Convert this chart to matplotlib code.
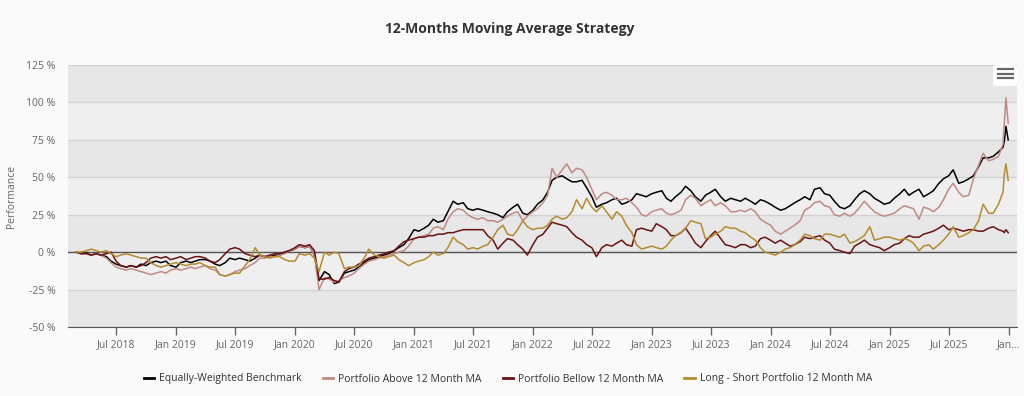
import matplotlib
matplotlib.use("Agg")
import pandas as pd
import matplotlib.pyplot as plt
from matplotlib.lines import Line2D
from matplotlib.patches import FancyBboxPatch

plt.rcParams["font.family"] = ["Open Sans", "DejaVu Sans"]

# semi-monthly observations, plus a few late-December points for the final spike
dates = pd.date_range("2018-03-01", "2025-12-15", freq="SMS").append(
    pd.DatetimeIndex(["2025-12-19", "2025-12-24", "2025-12-31"]))

benchmark = [
    0, -1, -0.5, -2, -1, -2, -3, -6, -8, -9,
    -10, -9, -10, -8, -9, -7, -6, -7, -6, -9,
    -10, -7, -6, -7, -6, -5, -5, -6, -8, -9,
    -7, -4, -5, -4, -5, -6, -4, -2, -3, -3,
    -2, -2, 0, 1, 2, 4, 3, 4, -2, -19,
    -13, -15, -21, -20, -14, -13, -12, -10, -7, -5,
    -4, -3, -2, -1, 1, 3, 5, 9, 15, 14,
    16, 18, 22, 20, 21, 27, 34, 32, 33, 29,
    28, 29, 28, 27, 26, 25, 23, 27, 30, 32,
    26, 25, 28, 32, 35, 40, 48, 50, 51, 49,
    47, 47, 48, 43, 37, 30, 32, 33, 35, 36,
    32, 33, 35, 39, 38, 37, 39, 40, 41, 36,
    34, 37, 40, 44, 41, 37, 34, 38, 40, 42,
    37, 34, 36, 35, 34, 36, 34, 32, 35, 34,
    32, 30, 28, 29, 31, 33, 35, 37, 35, 42,
    43, 39, 38, 34, 30, 29, 31, 35, 39, 41,
    39, 36, 34, 32, 33, 36, 39, 42, 38, 40,
    42, 37, 39, 41, 46, 49, 51, 55, 46, 47,
    49, 51, 57, 63, 63, 64, 67, 70,
    74, 84, 75,
]

above_ma = [
    0, -1, -1, -2, -1, -2, -4, -7, -10, -11,
    -12, -11, -12, -13, -14, -15, -14, -13, -14, -12,
    -11, -12, -11, -10, -11, -10, -9, -11, -12, -15,
    -16, -15, -13, -12, -11, -9, -7, -4, -4, -3,
    -3, -2, -1, 1, 2, 4, 3, 4, -2, -25,
    -17, -18, -20, -19, -17, -16, -14, -11, -8, -6,
    -5, -4, -3, -2, -1, 0, 1, 4, 9, 10,
    11, 12, 16, 17, 15, 22, 27, 29, 28, 25,
    23, 22, 23, 21, 21, 20, 22, 24, 26, 27,
    21, 24, 27, 29, 33, 38, 56, 50, 55, 59,
    53, 56, 55, 50, 42, 35, 39, 40, 38, 35,
    35, 36, 33, 30, 25, 24, 27, 28, 29, 26,
    25, 26, 28, 35, 38, 36, 31, 33, 35, 31,
    33, 31, 27, 27, 28, 27, 29, 27, 22, 20,
    18, 14, 12, 14, 16, 18, 21, 28, 30, 33,
    34, 31, 30, 25, 24, 26, 24, 26, 30, 34,
    30, 27, 25, 24, 25, 26, 29, 31, 30, 29,
    22, 30, 29, 27, 30, 35, 42, 46, 40, 37,
    38, 49, 58, 66, 61, 62, 64, 72,
    86, 103, 86,
]

below_ma = [
    0, -1, -1, -2, -1, -2, -1, 0, -6, -9,
    -10, -9, -10, -9, -7, -4, -3, -4, -3, -5,
    -4, -3, -5, -4, -3, -3, -4, -6, -7, -5,
    -1, 2, 3, 2, -1, -2, -3, -2, -3, -2,
    -1, -1, 0, 1, 3, 5, 4, 5, 1, -18,
    -18, -17, -19, -20, -13, -11, -10, -8, -6, -4,
    -3, -2, -1, 0, 1, 4, 7, 8, 9, 10,
    10, 11, 11, 12, 12, 13, 13, 14, 15, 15,
    15, 15, 15, 11, 8, 2, 6, 9, 8, 5,
    2, -2, 5, 10, 12, 16, 20, 19, 18, 17,
    13, 10, 8, 5, 3, -3, 3, 5, 4, 6,
    8, 5, 4, 15, 16, 15, 14, 19, 17, 15,
    11, 11, 13, 16, 11, 6, 3, 7, 11, 14,
    9, 5, 4, 3, 5, 5, 3, 4, 9, 10,
    8, 6, 8, 6, 4, 5, 7, 10, 9, 10,
    11, 8, 6, 2, 1, 0, -1, 4, 6, 8,
    5, 4, 3, 1, 3, 5, 6, 9, 11, 10,
    10, 12, 13, 14, 16, 18, 15, 16, 15, 14,
    15, 15, 14, 14, 16, 17, 15, 14,
    13, 15, 13,
]

long_short = [
    0, 0, 1, 2, 1, 0, 1, -1, -3, -2,
    -1, -2, -3, -4, -4, -7, -9, -10, -9, -8,
    -7, -8, -9, -8, -8, -7, -9, -10, -10, -15,
    -16, -15, -14, -14, -9, -5, 3, -2, -3, -4,
    -3, -3, -5, -6, -6, -1, -2, -1, -4, -13,
    0, -2, 0, -1, -11, -10, -10, -9, -4, 2,
    -2, -3, -4, -3, -2, -5, -7, -9, -7, -6,
    -5, -3, 0, -2, -1, 3, 10, 7, 5, 2,
    3, 2, 4, 5, 10, 15, 18, 12, 11, 15,
    21, 17, 15, 16, 16, 18, 22, 24, 22, 23,
    27, 35, 29, 36, 30, 27, 31, 27, 22, 27,
    24, 18, 13, 5, 2, 3, 4, 3, 2, 4,
    8, 11, 13, 16, 21, 20, 19, 9, 10, 12,
    14, 17, 16, 16, 14, 13, 10, 8, 3, 0,
    -1, -2, 0, 2, 3, 5, 8, 12, 11, 9,
    8, 12, 12, 11, 10, 12, 6, 7, 9, 11,
    17, 8, 9, 10, 10, 9, 8, 9, 8, 6,
    1, 4, 5, 2, 5, 8, 12, 17, 10, 11,
    13, 15, 21, 32, 26, 26, 32, 40,
    52, 59, 48,
]

series_names = [
    "Equally-Weighted Benchmark",
    "Portfolio Above 12 Month MA",
    "Portfolio Bellow 12 Month MA",
    "Long - Short Portfolio 12 Month MA",
]
series_colors = ["#000000", "#c08a82", "#6b1212", "#b48a30"]

tick_dates = pd.date_range("2018-07-01", "2026-01-01", freq="6MS")
tick_labels = [d.strftime("%b %Y") for d in tick_dates[:-1]] + ["Jan..."]
y_ticks = [-50, -25, 0, 25, 50, 75, 100, 125]

W, H = 1024, 396
fig = plt.figure(figsize=(W / 100, H / 100), dpi=100, facecolor="#fafafa")
ax = fig.add_axes([68 / W, 1 - 327 / H, 949 / W, 262 / H])
ax.set_facecolor("#efefef")

# alternating plot bands
for k, lo in enumerate(y_ticks[:-1]):
    ax.axhspan(lo, lo + 25, color="#e7e7e7" if k % 2 == 0 else "#efefef", lw=0, zorder=0)
for v in y_ticks:
    ax.axhline(v, color="#d2d2d2", lw=1, zorder=1)
ax.axhline(0, color="#555555", lw=1, zorder=2)

for vals, name, col in zip([benchmark, above_ma, below_ma, long_short], series_names, series_colors):
    ax.plot(dates, vals, color=col, lw=1.1, label=name, zorder=3)

ax.set_ylim(-50, 125)
ax.set_xlim(pd.Timestamp("2018-02-03"), pd.Timestamp("2026-01-27"))
ax.set_yticks(y_ticks)
ax.set_yticklabels([f"{v} %" for v in y_ticks])
ax.set_xticks(tick_dates)
ax.set_xticklabels(tick_labels)
ax.tick_params(axis="y", length=0, pad=9, labelsize=7.5, labelcolor="#666666")
ax.tick_params(axis="x", length=6, width=1, color="#666666", pad=3,
               labelsize=7.5, labelcolor="#666666")
for side in ["top", "right", "left"]:
    ax.spines[side].set_visible(False)
ax.spines["bottom"].set_color("#555555")

fig.text(510 / W, 1 - 29 / H, "12-Months Moving Average Strategy", ha="center", va="center",
         fontsize=10, fontweight="bold", color="#333333")
fig.text(12 / W, 1 - 196 / H, "Performance", rotation=90, ha="center", va="center",
         fontsize=7.5, color="#666666")

handles = [Line2D([0], [0], color=c, lw=2) for c in series_colors]
fig.legend(handles, series_names, loc="center", bbox_to_anchor=(508 / W, 1 - 379 / H),
           ncol=4, frameon=False, fontsize=7.5, handlelength=1.0, handletextpad=0.5,
           columnspacing=2.0, labelcolor="#333333")

# export menu button
fig.add_artist(FancyBboxPatch((993 / W, 1 - 86 / H), 24 / W, 21 / H,
                              boxstyle="round,pad=0,rounding_size=0.004",
                              transform=fig.transFigure, fc="white", ec="none"))
for yy in [69, 73.5, 78]:
    fig.add_artist(Line2D([998 / W, 1013 / W], [1 - yy / H, 1 - yy / H],
                          transform=fig.transFigure, color="#666666", lw=1.6))

fig.savefig("out.png", dpi=100, facecolor=fig.get_facecolor())
